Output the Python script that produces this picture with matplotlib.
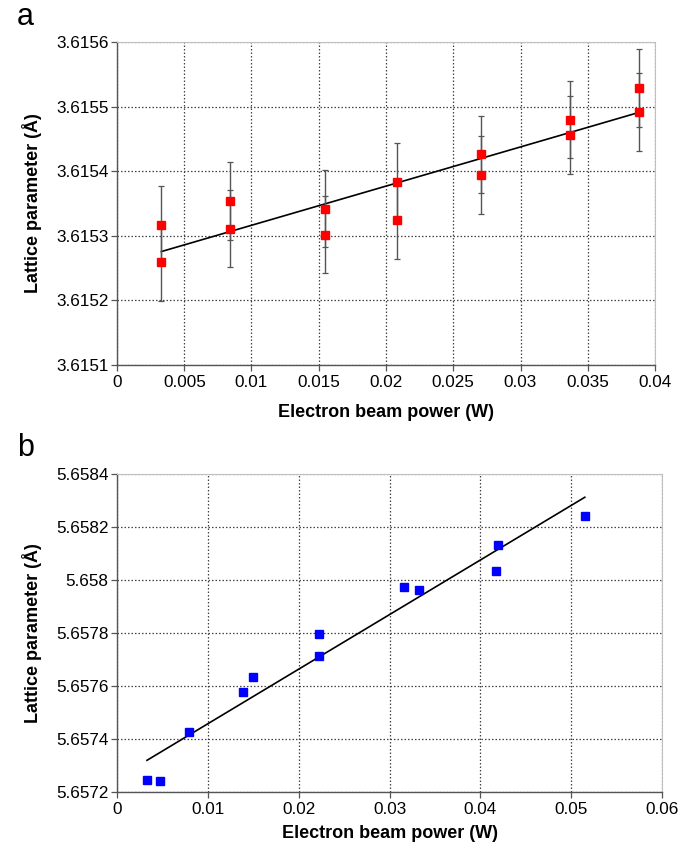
import numpy as np
import matplotlib
matplotlib.use("Agg")
import matplotlib.pyplot as plt
from matplotlib.ticker import MultipleLocator, FuncFormatter

plt.rcParams["font.family"] = ["Liberation Sans", "DejaVu Sans"]

# panel a: pairs of measurements at each beam power
power_a = [0.0033, 0.0033, 0.0084, 0.0084, 0.0155, 0.0155, 0.0208, 0.0208,
           0.0271, 0.0271, 0.0337, 0.0337, 0.0388, 0.0388]
lattice_a = [3.615317, 3.615259, 3.615354, 3.615311, 3.615342, 3.615302,
             3.615383, 3.615324, 3.615426, 3.615394, 3.615480, 3.615456,
             3.615529, 3.615492]
err_a = 0.00006

# panel b
power_b = [0.0033, 0.0047, 0.0079, 0.0139, 0.0150, 0.0222, 0.0222,
           0.0316, 0.0333, 0.0417, 0.0419, 0.0515]
lattice_b = [5.657245, 5.657240, 5.657426, 5.657578, 5.657634, 5.657796,
             5.657712, 5.657975, 5.657962, 5.658035, 5.658131, 5.658241]

W, H = 694, 848
fig = plt.figure(figsize=(W / 100, H / 100), dpi=100)


def ax_at(l, t, r, b):
    return fig.add_axes([l / W, 1 - b / H, (r - l) / W, (b - t) / H])


def style(ax, xpad):
    ax.grid(True, color="#444444", linestyle=(0, (1.2, 1.6)), linewidth=0.9)
    ax.set_axisbelow(True)
    for s in ("top", "right"):
        ax.spines[s].set_color("#c0c0c0")
    for s in ("left", "bottom"):
        ax.spines[s].set_color("#555555")
        ax.spines[s].set_linewidth(1.0)
    ax.tick_params(direction="out", length=4, width=0.9, color="#555555",
                   labelsize=12.3, pad=2)
    ax.tick_params(axis="x", pad=3)
    ax.set_xlabel("Electron beam power (W)", fontsize=13, fontweight="bold",
                  labelpad=xpad)
    ax.set_ylabel("Lattice parameter (Å)", fontsize=13, fontweight="bold",
                  labelpad=10)


def fmt(x, pos):
    s = f"{x:.4f}".rstrip("0").rstrip(".")
    return s


# ---- a ----
ax1 = ax_at(117, 42, 655, 365)
xa = np.array(power_a)
ya = np.array(lattice_a)
k, c = np.polyfit(xa, ya, 1)
xl = np.array([xa.min(), xa.max()])
ax1.plot(xl, k * xl + c, color="black", linewidth=1.2, zorder=3)
ax1.errorbar(xa, ya, yerr=err_a, fmt="s", color="red", ms=5.5,
             ecolor="#555555", elinewidth=1.0, capsize=2.5, capthick=0.9,
             zorder=4)
ax1.set_xlim(0, 0.04)
ax1.set_ylim(3.6151, 3.6156)
ax1.xaxis.set_major_locator(MultipleLocator(0.005))
ax1.yaxis.set_major_locator(MultipleLocator(0.0001))
ax1.xaxis.set_major_formatter(FuncFormatter(fmt))
ax1.yaxis.set_major_formatter(FuncFormatter(lambda v, p: f"{v:.4f}"))
style(ax1, 10)

# ---- b ----
ax2 = ax_at(117, 474, 662, 792)
xb = np.array(power_b)
yb = np.array(lattice_b)
k2, c2 = np.polyfit(xb, yb, 1)
xl2 = np.array([xb.min(), xb.max()])
ax2.plot(xl2, k2 * xl2 + c2, color="black", linewidth=1.2, zorder=3)
ax2.plot(xb, yb, "s", color="#0000ff", ms=5.5, zorder=4)
ax2.set_xlim(0, 0.06)
ax2.set_ylim(5.6572, 5.6584)
ax2.xaxis.set_major_locator(MultipleLocator(0.01))
ax2.yaxis.set_major_locator(MultipleLocator(0.0002))
ax2.xaxis.set_major_formatter(FuncFormatter(fmt))
ax2.yaxis.set_major_formatter(FuncFormatter(fmt))
style(ax2, 6)

fig.text(17 / W, 1 - 17 / H, "a", fontsize=22, va="center", ha="left")
fig.text(17 / W, 1 - 448 / H, "b", fontsize=22, va="center", ha="left")

fig.savefig("out.png", dpi=100, facecolor="white")
